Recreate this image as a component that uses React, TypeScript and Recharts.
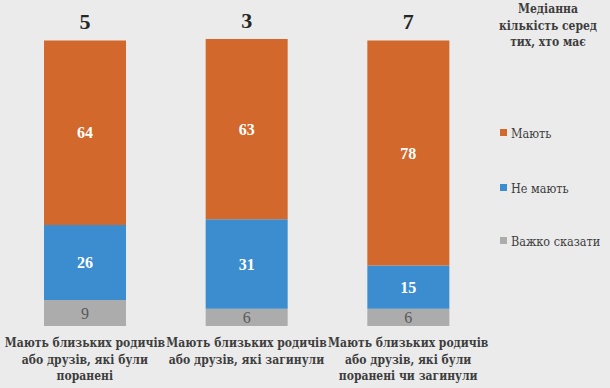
import {Bar, BarChart, LabelList, XAxis, YAxis} from "recharts";

const categories = [
  ["Мають близьких родичів", "або друзів, які були", "поранені"],
  ["Мають близьких родичів", "або друзів, які загинули"],
  ["Мають близьких родичів", "або друзів, які були", "поранені чи загинули"],
];
const medians = [5, 3, 7];
const have = [64, 63, 78];
const haveNot = [26, 31, 15];
const hardToSay = [9, 6, 6];

const seriesNames = ["Мають", "Не мають", "Важко сказати"];
const legendTitle = ["Медіанна", "кількість серед", "тих, хто має"];

const ORANGE = "#d2682b";
const BLUE = "#3b8dcf";
const GRAY = "#acacac";
const FONT = "Liberation Serif, Times New Roman, serif";
// кирилиця в Liberation Serif тут не малюється, тому DejaVu
const CYR = "DejaVu Serif Condensed, DejaVu Serif, serif";

const data = categories.map((lines, i) => ({
  name: i,
  lines,
  median: medians[i],
  have: have[i],
  haveNot: haveNot[i],
  hard: hardToSay[i],
}));

function CategoryTick(props: any) {
  const {x, y, payload} = props;
  const lines: string[] = categories[payload.value];
  return (
    <g transform={`translate(${x},${y})`}>
      {lines.map((l, i) => (
        <text
          key={i}
          x={0}
          y={13 + i * 16.5}
          textAnchor="middle"
          fill="#3d3d3d"
          style={{fontFamily: CYR, fontWeight: 700, fontSize: 12}}
        >
          {l}
        </text>
      ))}
    </g>
  );
}

function MedianLabel(props: any) {
  const {x, y, width, index} = props;
  return (
    <text
      x={x + width / 2}
      y={y - 11}
      textAnchor="middle"
      fill="#262626"
      style={{fontFamily: FONT, fontWeight: 700, fontSize: 22}}
    >
      {medians[index]}
    </text>
  );
}

function LegendBox() {
  const colors = [ORANGE, BLUE, GRAY];
  const centers = [133, 188, 241];
  return (
    <svg
      width={610}
      height={388}
      style={{position: "absolute", left: 0, top: 0, pointerEvents: "none"}}
    >
      {legendTitle.map((t, i) => (
        <text
          key={t}
          x={548}
          y={13 + i * 16.5}
          textAnchor="middle"
          fill="#3d3d3d"
          style={{fontFamily: CYR, fontWeight: 700, fontSize: 12}}
        >
          {t}
        </text>
      ))}
      {seriesNames.map((n, i) => (
        <g key={n}>
          <rect x={500} y={centers[i] - 4} width={7} height={7} fill={colors[i]} />
          <text
            x={511}
            y={centers[i] + 4.5}
            fill="#3d3d3d"
            style={{fontFamily: CYR, fontSize: 12.5}}
          >
            {n}
          </text>
        </g>
      ))}
    </svg>
  );
}

export default function App() {
  return (
    <div
      style={{
        position: "absolute",
        left: 0,
        top: 0,
        width: 610,
        height: 388,
        background: "#ebebeb",
      }}
    >
      <BarChart
        width={610}
        height={388}
        data={data}
        margin={{top: 39, right: 121, bottom: 0, left: 4}}
        barCategoryGap={40}
      >
        <XAxis
          dataKey="name"
          axisLine={false}
          tickLine={false}
          interval={0}
          height={62}
          tick={<CategoryTick />}
        />
        <YAxis hide domain={[0, 99.5]} allowDataOverflow />
        <Bar dataKey="hard" stackId="a" fill={GRAY} isAnimationActive={false} name={seriesNames[2]}>
          <LabelList
            dataKey="hard"
            position="center"
            fill="#595959"
            style={{fontFamily: FONT, fontSize: 16}}
          />
        </Bar>
        <Bar dataKey="haveNot" stackId="a" fill={BLUE} isAnimationActive={false} name={seriesNames[1]}>
          <LabelList
            dataKey="haveNot"
            position="center"
            fill="#ffffff"
            style={{fontFamily: FONT, fontWeight: 700, fontSize: 16}}
          />
        </Bar>
        <Bar dataKey="have" stackId="a" fill={ORANGE} isAnimationActive={false} name={seriesNames[0]}>
          <LabelList
            dataKey="have"
            position="center"
            fill="#ffffff"
            style={{fontFamily: FONT, fontWeight: 700, fontSize: 16}}
          />
          <LabelList dataKey="median" content={<MedianLabel />} />
        </Bar>
      </BarChart>
      <LegendBox />
    </div>
  );
}
